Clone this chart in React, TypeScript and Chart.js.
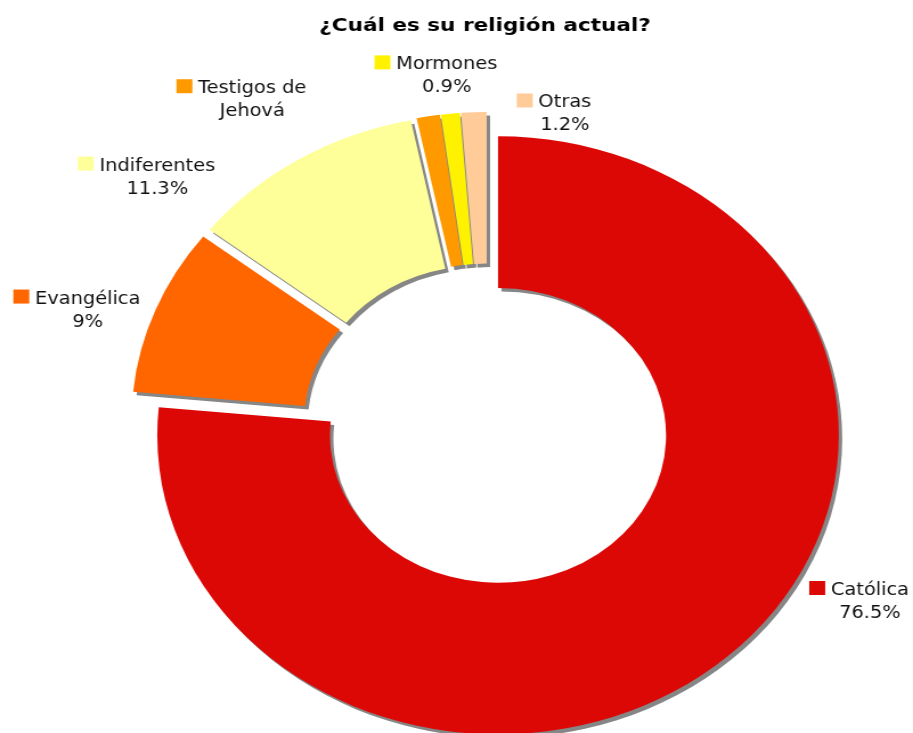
import { useEffect, useRef } from 'react';
import { Chart, registerables } from 'chart.js';

Chart.register(...registerables);

const TITLE = '¿Cuál es su religión actual?';
const categories = ['Católica', 'Evangélica', 'Indiferentes', 'Testigos de Jehová', 'Mormones', 'Otras'];
const labelLines = [['Católica'], ['Evangélica'], ['Indiferentes'], ['Testigos de', 'Jehová'], ['Mormones'], ['Otras']];
const values = [76.5, 9, 11.3, 1.1, 0.9, 1.2];
const showValue = [true, true, true, false, true, true];
const colors = ['#DC0806', '#FF6600', '#FFFF99', '#FF9900', '#FFF200', '#FFCC99'];
// label block placement: [angle in degrees clockwise from top, distance as a factor of the outer radius]
const labelPolar = [
  [117.6, 1.267],
  [288.3, 1.235],
  [310.7, 1.277],
  [327.7, 1.291],
  [354.2, 1.177],
  [12.3, 1.068],
];

const W = 801;
const H = 733;
const STRETCH = 913 / W;
const EXPLODE = 14;

function chartCenter(chart: any) {
  const a = chart.chartArea;
  return { cx: (a.left + a.right) / 2, cy: (a.top + a.bottom) / 2 };
}

// pulls every slice outwards along its mid angle, then casts a hard grey shadow
const explodePlugin = {
  id: 'sliceExplode',
  beforeDatasetsDraw(chart: any) {
    const { cx, cy } = chartCenter(chart);
    chart.getDatasetMeta(0).data.forEach((arc: any) => {
      const mid = (arc.startAngle + arc.endAngle) / 2;
      arc.x = cx + EXPLODE * Math.cos(mid);
      arc.y = cy + EXPLODE * Math.sin(mid);
    });
    const ctx = chart.ctx;
    ctx.save();
    ctx.shadowColor = '#868686';
    ctx.shadowOffsetX = 3;
    ctx.shadowOffsetY = 3.5;
    ctx.shadowBlur = 0;
  },
  afterDatasetsDraw(chart: any) {
    chart.ctx.restore();
  },
};

const labelPlugin = {
  id: 'sliceLabels',
  afterDraw(chart: any) {
    const ctx = chart.ctx;
    const arcs = chart.getDatasetMeta(0).data;
    const { cx: x, cy: y } = chartCenter(chart);
    ctx.save();
    ctx.fillStyle = '#000';
    ctx.textBaseline = 'alphabetic';
    ctx.textAlign = 'center';
    ctx.font = 'bold 18px "DejaVu Sans"';
    ctx.save();
    ctx.translate(chart.width / 2 + 25, 31);
    ctx.scale(1.05, 1);
    ctx.fillText(TITLE, 0, 0);
    ctx.restore();

    ctx.font = '17px "DejaVu Sans"';
    arcs.forEach((arc: any, i: number) => {
      const outerRadius = arc.outerRadius;
      const [a, rf] = labelPolar[i];
      const rad = (a * Math.PI) / 180;
      const cx = x + rf * outerRadius * Math.sin(rad);
      const cy = y - rf * outerRadius * Math.cos(rad);
      const lines = [...labelLines[i]];
      if (showValue[i]) lines.push(values[i] + '%');
      const b1 = cy - 5.5;
      const w1 = ctx.measureText(lines[0]).width;
      ctx.fillStyle = colors[i];
      ctx.fillRect(cx - w1 / 2 - 5 - 14, b1 - 14, 14, 14);
      ctx.fillStyle = '#111';
      ctx.textAlign = 'center';
      lines.forEach((t: string, k: number) => {
        ctx.fillText(t, cx, b1 + k * 23);
      });
    });
    ctx.restore();
  },
};

export default function App() {
  const ref = useRef<HTMLCanvasElement>(null);
  useEffect(() => {
    document.body.style.margin = '0';
    const chart = new Chart(ref.current as HTMLCanvasElement, {
      type: 'doughnut',
      data: {
        labels: categories,
        datasets: [
          {
            data: values,
            backgroundColor: colors,
            borderWidth: 0,
            hoverOffset: 0,
          },
        ],
      },
      options: {
        responsive: false,
        animation: false,
        events: [],
        radius: 299,
        cutout: '49.3%',
        layout: { padding: { left: 54, right: 0, top: 117, bottom: 0 } },
        plugins: {
          legend: { display: false },
          tooltip: { enabled: false },
          title: { display: false },
        },
      } as any,
      plugins: [explodePlugin, labelPlugin],
    });
    return () => chart.destroy();
  }, []);
  return (
    <div
      style={{
        position: 'absolute',
        left: 0,
        top: 0,
        width: 913,
        height: 733,
        overflow: 'hidden',
        background: '#fff',
      }}
    >
      <canvas
        ref={ref}
        width={W}
        height={H}
        style={{
          width: W,
          height: H,
          display: 'block',
          transform: `scaleX(${STRETCH})`,
          transformOrigin: '0 0',
        }}
      />
    </div>
  );
}
